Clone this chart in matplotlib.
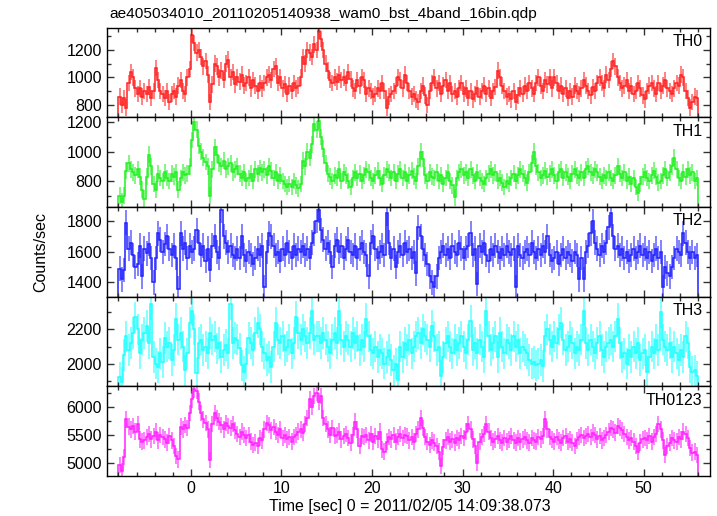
import numpy as np
import matplotlib
matplotlib.use("Agg")
import matplotlib.pyplot as plt
import matplotlib.ticker as mticker

plt.rcParams['font.family'] = ['Liberation Sans', 'DejaVu Sans']

# light curves, 0.25 s bins starting at t = -8 s (counts/sec)
t_start = -8.0
bin_size = 0.25

th0 = [
    860, 800, 850, 780, 960, 1040, 1000, 920, 880, 920, 860, 900, 880, 930, 850, 900,
    1070, 980, 900, 880, 850, 900, 820, 880, 900, 860, 940, 980, 900, 880, 1000, 1060,
    1310, 1250, 1180, 1200, 1150, 1080, 1120, 1020, 820, 950, 1100, 1080, 1000, 1050, 980, 1100,
    1130, 1000, 1040, 950, 1000, 970, 1020, 940, 960, 1000, 920, 980, 940, 900, 960, 920,
    960, 1000, 1020, 980, 1060, 1080, 960, 1000, 920, 950, 880, 940, 900, 960, 920, 940,
    1000, 1150, 1100, 1200, 1180, 1150, 1240, 1200, 1340, 1280, 1200, 1100, 1050, 980, 960, 1000,
    970, 1020, 980, 1000, 960, 1040, 990, 920, 900, 980, 940, 1000, 980, 880, 920, 900,
    860, 880, 920, 900, 960, 900, 780, 860, 880, 900, 940, 1000, 980, 920, 1020, 960,
    900, 860, 880, 840, 820, 900, 940, 870, 800, 900, 960, 1000, 920, 960, 880, 940,
    980, 900, 960, 880, 900, 860, 920, 960, 880, 920, 850, 900, 840, 880, 920, 860,
    900, 940, 880, 920, 850, 900, 930, 1050, 1000, 940, 900, 860, 880, 840, 900, 820,
    870, 920, 880, 940, 900, 960, 920, 880, 960, 1000, 940, 900, 980, 950, 1000, 920,
    1000, 960, 900, 940, 880, 920, 850, 900, 860, 940, 900, 880, 920, 980, 940, 900,
    870, 930, 900, 960, 1000, 960, 920, 1020, 980, 1060, 1120, 1080, 1000, 960, 920, 940,
    980, 900, 940, 880, 900, 960, 920, 870, 840, 900, 940, 960, 920, 880, 960, 900,
    940, 980, 920, 900, 880, 920, 960, 940, 1020, 1000, 900, 850, 780, 820, 860, 850,
]

th1 = [
    700, 660, 700, 870, 920, 880, 860, 840, 880, 830, 740, 680, 830, 980, 900, 780,
    740, 850, 820, 800, 860, 820, 800, 850, 830, 860, 740, 820, 860, 840, 850, 900,
    1080, 1200, 1150, 1040, 1000, 960, 930, 900, 700, 880, 1030, 980, 920, 900, 940, 880,
    900, 920, 860, 880, 900, 850, 820, 860, 800, 820, 850, 800, 880, 850, 890, 860,
    880, 840, 900, 870, 820, 860, 800, 840, 800, 780, 760, 780, 760, 800, 770, 750,
    780, 940, 900, 1000, 960, 1050, 1190, 1150, 1210, 1100, 1020, 920, 850, 830, 800, 840,
    820, 880, 800, 860, 840, 800, 760, 820, 860, 820, 850, 800, 840, 880, 860, 820,
    800, 840, 870, 820, 780, 840, 880, 860, 820, 860, 800, 850, 880, 820, 860, 800,
    840, 870, 830, 800, 900, 1000, 950, 840, 800, 860, 830, 820, 860, 800, 840, 780,
    820, 860, 800, 770, 690, 820, 860, 880, 840, 860, 820, 880, 840, 800, 860, 820,
    800, 780, 820, 850, 880, 840, 860, 800, 820, 790, 760, 800, 780, 820, 850, 800,
    840, 880, 850, 820, 790, 860, 920, 1000, 900, 860, 820, 840, 870, 830, 850, 880,
    840, 800, 860, 880, 820, 860, 830, 800, 850, 880, 840, 820, 860, 820, 880, 900,
    860, 840, 880, 860, 830, 800, 840, 820, 860, 820, 800, 840, 900, 850, 820, 860,
    800, 830, 780, 820, 760, 720, 780, 830, 860, 820, 800, 840, 870, 830, 790, 800,
    840, 880, 820, 860, 900, 960, 880, 820, 800, 860, 830, 880, 840, 860, 800, 820,
]

th2 = [
    1490, 1420, 1480, 1790, 1620, 1660, 1580, 1500, 1520, 1640, 1440, 1620, 1590, 1650, 1560, 1400,
    1560, 1720, 1680, 1600, 1650, 1700, 1620, 1580, 1640, 1560, 1360, 1720, 1620, 1660, 1560, 1640,
    1600, 1620, 1740, 1660, 1580, 1640, 1540, 1620, 1480, 1640, 1700, 1600, 1560, 1870, 1700, 1660,
    1600, 1640, 1580, 1560, 1620, 1560, 1700, 1580, 1540, 1600, 1580, 1520, 1560, 1620, 1580, 1640,
    1370, 1600, 1720, 1700, 1640, 1580, 1600, 1540, 1620, 1580, 1660, 1600, 1560, 1640, 1580, 1620,
    1600, 1640, 1580, 1620, 1560, 1660, 1720, 1800, 1870, 1740, 1680, 1620, 1660, 1600, 1500, 1640,
    1680, 1600, 1640, 1560, 1620, 1680, 1600, 1580, 1640, 1560, 1620, 1660, 1600, 1580, 1440, 1660,
    1700, 1620, 1560, 1600, 1640, 1580, 1850, 1660, 1560, 1620, 1500, 1600, 1640, 1580, 1660, 1600,
    1620, 1560, 1600, 1460, 1760, 1700, 1620, 1580, 1520, 1440, 1400, 1370, 1440, 1560, 1600, 1640,
    1580, 1620, 1560, 1640, 1600, 1580, 1660, 1620, 1560, 1620, 1640, 1720, 1580, 1620, 1390, 1640,
    1600, 1660, 1580, 1540, 1620, 1580, 1640, 1600, 1560, 1620, 1580, 1640, 1600, 1580, 1620, 1370,
    1640, 1580, 1560, 1600, 1620, 1580, 1660, 1600, 1560, 1620, 1580, 1640, 1600, 1700, 1580, 1540,
    1560, 1600, 1520, 1580, 1620, 1560, 1600, 1580, 1540, 1600, 1580, 1420, 1560, 1420, 1600, 1640,
    1720, 1800, 1660, 1620, 1580, 1640, 1600, 1660, 1760, 1850, 1700, 1620, 1640, 1580, 1620, 1560,
    1600, 1540, 1580, 1620, 1560, 1600, 1640, 1580, 1620, 1560, 1600, 1540, 1580, 1620, 1560, 1600,
    1370, 1500, 1460, 1440, 1500, 1560, 1620, 1600, 1580, 1720, 1660, 1600, 1560, 1600, 1560, 1580,
]

th3 = [
    1920, 1890, 2050, 2160, 2080, 2120, 2180, 2270, 2200, 2060, 2140, 2180, 2220, 2120, 2350, 2040,
    2000, 1980, 2060, 2010, 2150, 2100, 2120, 2020, 2080, 2260, 2140, 2180, 2100, 1960, 2060, 2240,
    2310, 2200, 1945, 2120, 2140, 2080, 2100, 2060, 2180, 2140, 2160, 2090, 2120, 2040, 2080, 2110,
    2060, 2350, 2120, 2150, 2140, 2090, 1990, 1950, 2000, 2150, 2120, 2080, 2180, 2240, 2200, 2100,
    2060, 2020, 2040, 1980, 2100, 2240, 2140, 2120, 2160, 2080, 2100, 2140, 2060, 2120, 2275, 2180,
    2140, 2200, 2160, 2120, 2180, 2310, 2140, 2160, 2160, 2120, 2180, 2140, 2100, 2060, 2140, 2180,
    2120, 2310, 2140, 2100, 2160, 2140, 2100, 2180, 2120, 2160, 2080, 2140, 2100, 2260, 2160, 2080,
    2060, 2100, 2040, 2080, 2060, 2000, 2040, 2080, 2020, 1960, 2000, 1905, 2100, 2040, 2120, 2080,
    2140, 2060, 2100, 2160, 2180, 2120, 2200, 2160, 2140, 2100, 2220, 2160, 2080, 2100, 1930, 2040,
    2120, 2160, 2100, 2060, 2140, 2080, 2120, 2160, 2100, 2060, 2140, 2250, 2080, 2120, 2060, 2140,
    2100, 2040, 2310, 2160, 2080, 2120, 2160, 2040, 2180, 2100, 2060, 2140, 2120, 2080, 2160, 2100,
    2140, 2060, 2100, 2080, 2060, 2020, 2000, 2010, 1990, 2000, 2020, 1985, 2160, 2200, 2140, 2100,
    2160, 2120, 2200, 2240, 2140, 2080, 2100, 2160, 2120, 2060, 2100, 2080, 2140, 2310, 2120, 2080,
    2140, 2100, 2060, 2120, 2160, 2080, 2040, 2100, 2120, 2140, 2100, 2160, 2260, 2120, 2040, 2060,
    2000, 2080, 2040, 2100, 2060, 2120, 2020, 2060, 2080, 1950, 2040, 2100, 2060, 2140, 2080, 2300,
    2140, 2100, 2080, 2120, 2040, 2100, 2060, 2020, 2080, 2040, 2160, 2120, 1980, 1950, 1960, 1925,
]

th0123 = [
    4960, 4850, 5100, 5780, 5650, 5600, 5660, 5560, 5700, 5420, 5380, 5400, 5460, 5520, 5420, 5480,
    5560, 5400, 5500, 5460, 5420, 5360, 5480, 5400, 5300, 5120, 5060, 5650, 5600, 5680, 5620, 5900,
    6140, 6320, 6300, 6100, 5900, 5780, 5720, 5600, 5050, 5700, 5900, 5800, 5740, 5680, 5600, 5720,
    5660, 5620, 5700, 5580, 5520, 5460, 5560, 5500, 5440, 5500, 5380, 5320, 5360, 5300, 5440, 5400,
    5600, 5720, 5680, 5580, 5640, 5560, 5500, 5600, 5440, 5500, 5420, 5460, 5380, 5460, 5500, 5560,
    5600, 5540, 5700, 5800, 6140, 6000, 6200, 6260, 6100, 6200, 5800, 5700, 5600, 5500, 5620, 5480,
    5500, 5560, 5420, 5480, 5520, 5440, 5360, 5500, 5740, 5600, 5300, 5480, 5460, 5500, 5400, 5520,
    5380, 5480, 5420, 5560, 5240, 5200, 5380, 5460, 5420, 5500, 5380, 5460, 5520, 5440, 5500, 5480,
    5400, 5460, 5380, 5520, 5600, 5800, 5620, 5460, 5380, 5320, 5400, 5360, 5300, 5200, 4940, 5280,
    5400, 5460, 5380, 5420, 5360, 5440, 5400, 5480, 5440, 5560, 5700, 5600, 5420, 5300, 5000, 5380,
    5460, 5520, 5700, 5560, 5440, 5380, 5420, 5480, 5400, 5360, 5440, 5380, 5420, 5480, 5400, 5360,
    5440, 5380, 5420, 5460, 5400, 5360, 5440, 5400, 5380, 5460, 5420, 5480, 5780, 5600, 5460, 5420,
    5380, 5460, 5400, 5360, 5440, 5480, 5380, 5420, 5360, 5300, 5400, 5460, 5500, 5440, 5480, 5520,
    5460, 5540, 5500, 5420, 5480, 5400, 5440, 5500, 5560, 5620, 5600, 5540, 5660, 5620, 5580, 5520,
    5460, 5400, 5440, 5380, 5300, 5200, 5360, 5420, 5440, 5400, 5480, 5380, 5460, 5520, 5700, 5600,
    5400, 5140, 5300, 5360, 5440, 5400, 5380, 5460, 5420, 5560, 5520, 5440, 5260, 5180, 5200, 5140,
]

# typical 1-sigma error per panel
errs = [60, 57, 80, 92, 148]

names = ['TH0', 'TH1', 'TH2', 'TH3', 'TH0123']
series = [th0, th1, th2, th3, th0123]
colors = ['#ff2020', '#20f020', '#2020ff', '#20ffff', '#ff20ff']
ylims = [(709, 1360), (622, 1234), (1307, 1891), (1867, 2391), (4759, 6375)]
ymajor = [200, 200, 200, 200, 500]
yminor = [100, 100, 100, 100, 250]

fig = plt.figure(figsize=(7.17, 5.16), dpi=100)
gs = fig.add_gridspec(5, 1, left=0.149, right=0.990, top=0.946, bottom=0.0775, hspace=0)

for i in range(5):
    ax = fig.add_subplot(gs[i])
    vals = np.array(series[i], dtype=float)
    edges = t_start + bin_size * np.arange(len(vals) + 1)
    centers = 0.5 * (edges[:-1] + edges[1:])
    ax.errorbar(centers, vals, yerr=errs[i], fmt='none', ecolor=colors[i],
                elinewidth=1.3, alpha=0.6)
    ax.stairs(vals, edges, color=colors[i], linewidth=1.1)
    ax.set_xlim(-9.28, 57.3)
    ax.set_ylim(*ylims[i])
    ax.xaxis.set_major_locator(mticker.MultipleLocator(10))
    ax.xaxis.set_minor_locator(mticker.MultipleLocator(2))
    ax.yaxis.set_major_locator(mticker.MultipleLocator(ymajor[i]))
    ax.yaxis.set_minor_locator(mticker.MultipleLocator(yminor[i]))
    ax.tick_params(which='both', direction='in', top=True, right=True,
                   labelsize=11.5, width=1.0, color='#333333')
    ax.tick_params(which='major', length=5)
    ax.tick_params(which='minor', length=3)
    for sp in ax.spines.values():
        sp.set_linewidth(1.0)
    ax.text(0.988, 0.93, names[i], transform=ax.transAxes, ha='right', va='top',
            fontsize=11.5)
    if i < 4:
        ax.tick_params(labelbottom=False)

fig.text(0.153, 0.972, 'ae405034010_20110205140938_wam0_bst_4band_16bin.qdp',
         fontsize=11.1, ha='left', va='center')
fig.text(0.057, 0.512, 'Counts/sec', rotation=90, fontsize=11.5,
         ha='center', va='center')
fig.text(0.572, 0.018, 'Time [sec] 0 = 2011/02/05 14:09:38.073', fontsize=11.5,
         ha='center', va='center')

fig.savefig('out.png', dpi=100)
